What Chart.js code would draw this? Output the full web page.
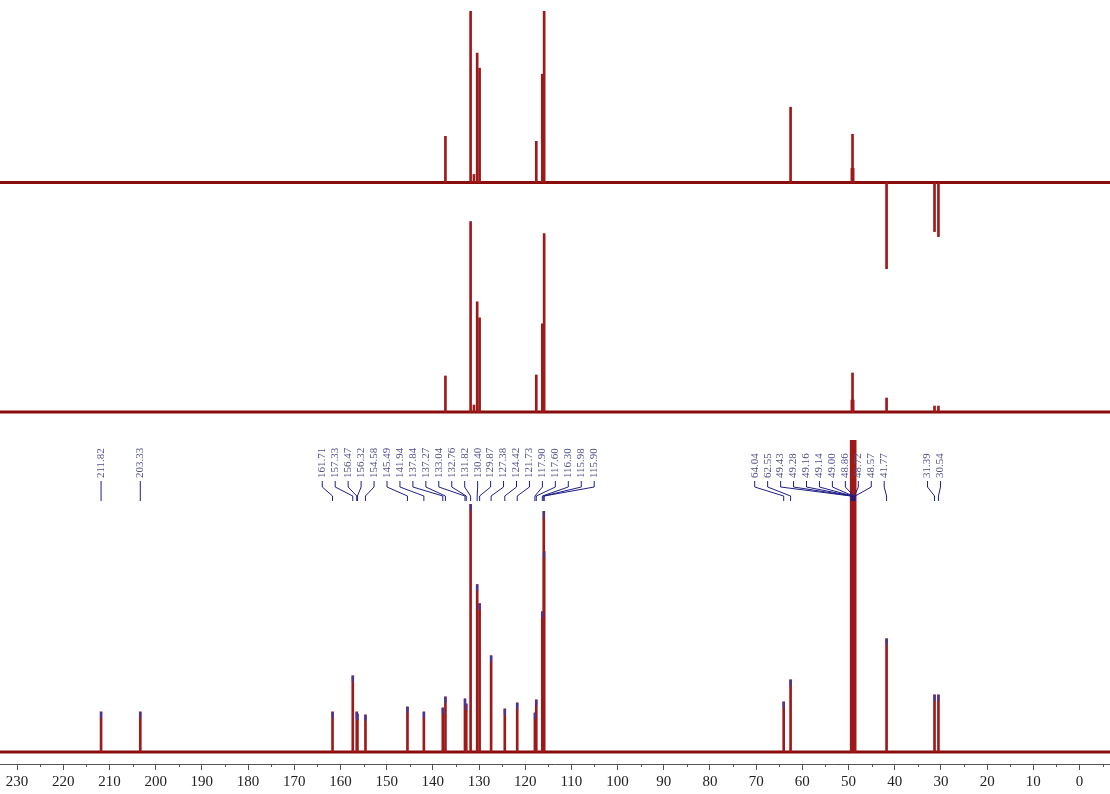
<!DOCTYPE html>
<html>
<head>
<meta charset="utf-8">
<title>13C / DEPT spectra</title>
<script src="https://cdn.jsdelivr.net/npm/chart.js@4.4.1/dist/chart.umd.min.js"></script>
<style>
    html, body { margin: 0; padding: 0; background: #fff; }
    #wrap { width: 1110px; height: 794px; position: relative; }
</style>
</head>
<body>
<div id="wrap"><canvas id="nmrChart"></canvas></div>
<script>
// ---- Data (chemical shift in ppm, intensity in arbitrary units) ----
const xTicks = [230, 220, 210, 200, 190, 180, 170, 160, 150, 140, 130, 120, 110, 100, 90, 80, 70, 60, 50, 40, 30, 20, 10, 0];

// DEPT-135 (top trace)
const dept135Shift = [137.27, 131.82, 131.10, 130.40, 129.87, 117.60, 116.30, 115.90, 62.55, 49.28, 49.14, 49.00, 41.77, 31.39, 30.54];
const dept135Intensity = [46, 260, 8, 129, 114, 41, 108, 260, 75, 14, 48, 14, -86, -49, -54];

// DEPT-90 (middle trace)
const dept90Shift = [137.27, 131.82, 131.10, 130.40, 129.87, 117.60, 116.30, 115.90, 49.28, 49.14, 49.00, 41.77, 31.39, 30.54];
const dept90Intensity = [36, 190, 7, 110, 94, 37, 88, 178, 12, 39, 12, 14, 6, 6];

// 13C (bottom trace, peak-picked)
const carbonShift = [211.82, 203.33, 161.71, 157.33, 156.47, 156.32, 154.58, 145.49, 141.94, 137.84, 137.27,
    133.04, 132.76, 131.82, 130.40, 129.87, 127.38, 124.42, 121.73, 117.90, 117.60, 116.30, 115.98, 115.90,
    64.04, 62.55, 49.43, 49.28, 49.16, 49.14, 49.00, 48.86, 48.72, 48.57, 41.77, 31.39, 30.54];
const carbonIntensity = [40, 40, 40, 76, 40, 38, 37, 45, 40, 44, 55,
    53, 48, 247, 167, 148, 96, 43, 49, 39, 52, 140, 240, 200,
    50, 72, 700, 800, 850, 900, 900, 900, 800, 700, 113, 57, 57];

// label groups: shifts listed and the shift the group is centred on
const labelGroups = [
    { anchor: 211.82, shifts: [211.82] },
    { anchor: 203.33, shifts: [203.33] },
    { anchor: 134.5, shifts: [161.71, 157.33, 156.47, 156.32, 154.58, 145.49, 141.94, 137.84, 137.27, 133.04, 132.76,
        131.82, 130.40, 129.87, 127.38, 124.42, 121.73, 117.90, 117.60, 116.30, 115.98, 115.90] },
    { anchor: 56.3, shifts: [64.04, 62.55, 49.43, 49.28, 49.16, 49.14, 49.00, 48.86, 48.72, 48.57, 41.77] },
    { anchor: 31.5, shifts: [31.39, 30.54] }
];

const X_MIN = -6.6;
const X_MAX = 233.7;
const PEAK = '#9e1a1a';
const BASE = '#8a0c0c';
const LABEL_BLUE = '#50508c';
const LINK_BLUE = '#1e1e86';

const toPoints = (xs, ys) => xs.map((x, i) => ({ x, y: ys[i] }));

function peakSet(label, xs, ys, axis, clip) {
    return {
        type: 'bar',
        label,
        data: toPoints(xs, ys),
        yAxisID: axis,
        backgroundColor: PEAK,
        borderWidth: 0,
        barThickness: 2,
        grouped: false,
        order: 1,
        clip
    };
}

function baseSet(axis) {
    return {
        type: 'line',
        data: [{ x: X_MIN, y: 0 }, { x: X_MAX, y: 0 }],
        yAxisID: axis,
        borderColor: BASE,
        borderWidth: 3,
        pointRadius: 0,
        order: 2
    };
}

// ---- Peak labels, connectors, minor ticks ----
const peakLabels = {
    id: 'peakLabels',
    afterDatasetsDraw(chart) {
        const { ctx, scales, chartArea } = chart;
        const xs = scales.x;
        const yc = scales.y3;
        const spacing = 12.95;

        ctx.save();

        // peak-pick markers at the top of the 13C peaks
        ctx.strokeStyle = '#3a3aa8';
        ctx.lineWidth = 2;
        carbonShift.forEach((s, i) => {
            const top = yc.getPixelForValue(carbonIntensity[i]);
            if (top < 445) return;
            const px = xs.getPixelForValue(s);
            ctx.beginPath();
            ctx.moveTo(px, top);
            ctx.lineTo(px, top + 6);
            ctx.stroke();
        });

        // labels and connectors
        ctx.font = '11px "Liberation Serif", "DejaVu Serif", serif';
        ctx.textAlign = 'left';
        ctx.textBaseline = 'middle';
        labelGroups.forEach(g => {
            const centre = xs.getPixelForValue(g.anchor);
            const n = g.shifts.length;
            g.shifts.forEach((s, i) => {
                const lx = centre + (i - (n - 1) / 2) * spacing;
                const px = xs.getPixelForValue(s);

                ctx.fillStyle = LABEL_BLUE;
                ctx.save();
                ctx.translate(lx, 478);
                ctx.rotate(-Math.PI / 2);
                ctx.fillText(s.toFixed(2), 0, 0);
                ctx.restore();

                ctx.strokeStyle = LINK_BLUE;
                ctx.lineWidth = 1;
                ctx.beginPath();
                ctx.moveTo(lx, 481);
                ctx.lineTo(lx, 487);
                ctx.lineTo(px, 496);
                ctx.lineTo(px, 501);
                ctx.stroke();
            });
        });

        // minor ticks every 5 ppm
        ctx.strokeStyle = '#555';
        ctx.lineWidth = 1;
        for (let v = -5; v <= 235; v += 10) {
            const x = Math.round(xs.getPixelForValue(v)) + 0.5;
            ctx.beginPath();
            ctx.moveTo(x, chartArea.bottom);
            ctx.lineTo(x, chartArea.bottom + 3);
            ctx.stroke();
        }
        ctx.restore();
    }
};

// ---- Chart ----
function initChart() {
    const canvas = document.getElementById('nmrChart');

    new Chart(canvas, {
        type: 'bar',
        data: {
            datasets: [
                baseSet('y1'),
                baseSet('y2'),
                baseSet('y3'),
                peakSet('DEPT-135', dept135Shift, dept135Intensity, 'y1', 0),
                peakSet('DEPT-90', dept90Shift, dept90Intensity, 'y2', 0),
                peakSet('13C', carbonShift, carbonIntensity, 'y3', { left: 0, top: -429, right: 0, bottom: 0 })
            ]
        },
        options: {
            responsive: true,
            maintainAspectRatio: false,
            animation: false,
            layout: { padding: { top: 11, left: 0, right: 0, bottom: 0 } },
            plugins: {
                legend: { display: false },
                tooltip: { enabled: false }
            },
            scales: {
                x: {
                    type: 'linear',
                    reverse: true,
                    offset: false,
                    min: X_MIN,
                    max: X_MAX,
                    afterBuildTicks: axis => {
                        axis.ticks = xTicks.map(v => ({ value: v }));
                    },
                    grid: {
                        offset: false,
                        drawOnChartArea: false,
                        drawTicks: true,
                        tickLength: 6,
                        color: '#555'
                    },
                    border: { display: true, color: '#555', width: 1 },
                    ticks: {
                        autoSkip: false,
                        maxRotation: 0,
                        padding: 3,
                        color: '#222',
                        font: { family: '"Liberation Serif", serif', size: 15 }
                    }
                },
                y1: { type: 'linear', display: false, min: -580, max: 171 },
                y2: { type: 'linear', display: false, min: -351, max: 400 },
                y3: { type: 'linear', display: false, min: -12, max: 739 }
            }
        },
        plugins: [peakLabels]
    });
}

initChart();
</script>
</body>
</html>
